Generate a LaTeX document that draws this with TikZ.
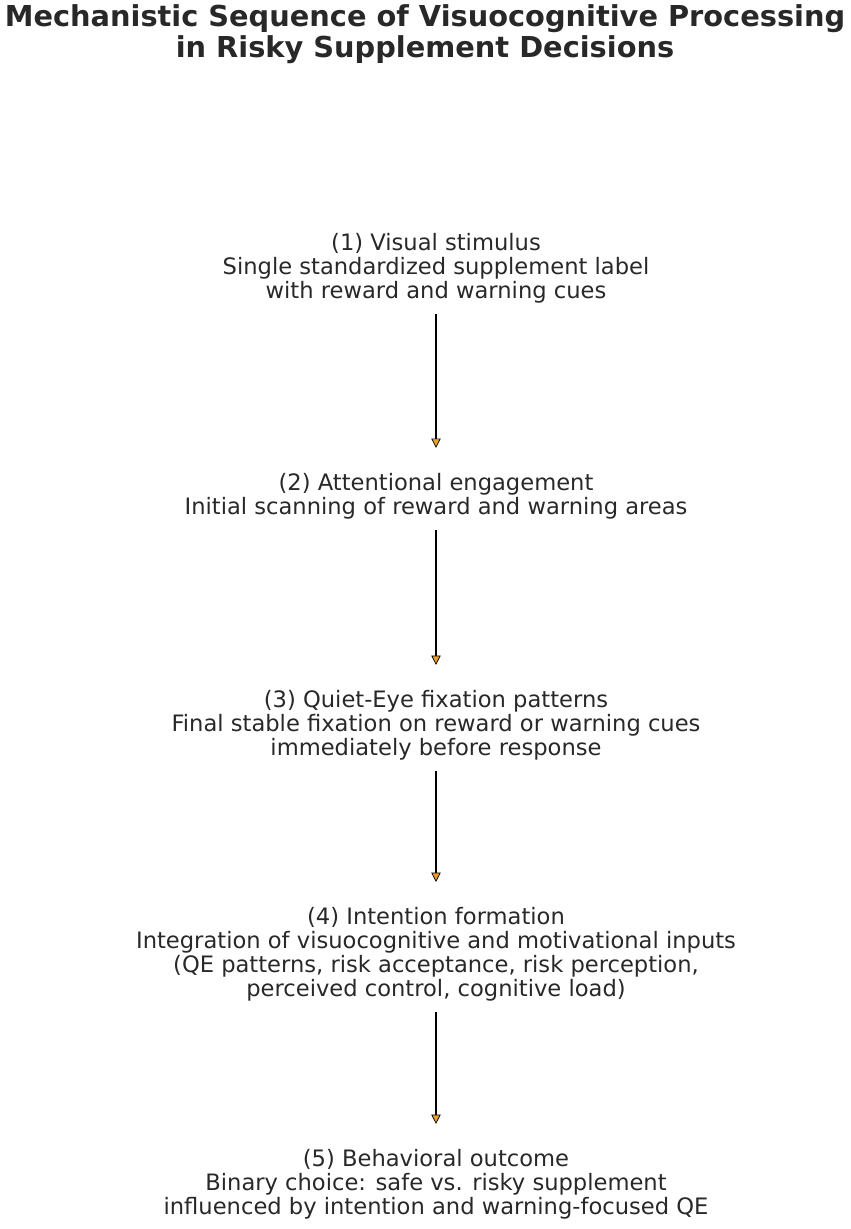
\documentclass[tikz,border=0pt]{standalone}
\usepackage{fontspec}
\setmainfont{DejaVu Sans}
\usetikzlibrary{arrows.meta,positioning}
\definecolor{tipfill}{RGB}{232,160,40}
\definecolor{txt}{RGB}{40,40,40}
\begin{document}
\begin{tikzpicture}[x=0.03cm,y=-0.03cm]
   \tikzstyle{stage}=[align=center, text=txt, inner xsep=0pt, inner ysep=0.33cm,
   font=\fontsize{19.3}{20.4}\selectfont]
   \tikzstyle{flow}=[-{Triangle[width=8pt,length=8pt,fill=tipfill,line width=0.6pt]}, line width=1.1pt, shorten >=0.42cm]

   \useasboundingbox (0,0) rectangle (851,1229);

   \node[align=center, text=txt, font=\fontsize{24.6}{27}\selectfont\bfseries] (title) at (425,34)
   {Mechanistic Sequence of Visuocognitive Processing\\in Risky Supplement Decisions};

   \node[stage] (s1) at (436,268) {(1) Visual stimulus\\Single standardized supplement label\\with reward and warning cues};
   \node[stage] (s2) at (436,496) {(2) Attentional engagement\\Initial scanning of reward and warning areas};
   \node[stage] (s3) at (436,725) {(3) Quiet-Eye fixation patterns\\Final stable fixation on reward or warning cues\\immediately before response};
   \node[stage] (s4) at (436,954) {(4) Intention formation\\Integration of visuocognitive and motivational inputs\\(QE patterns, risk acceptance, risk perception,\\perceived control, cognitive load)};
   \node[stage] (s5) at (436,1184) {(5) Behavioral outcome\\Binary choice: safe vs. risky supplement\\influenced by intention and warning-focused QE};

   \draw[flow] (s1.south) -- (s2.north);
   \draw[flow] (s2.south) -- (s3.north);
   \draw[flow] (s3.south) -- (s4.north);
   \draw[flow] (s4.south) -- (s5.north);
\end{tikzpicture}
\end{document}
